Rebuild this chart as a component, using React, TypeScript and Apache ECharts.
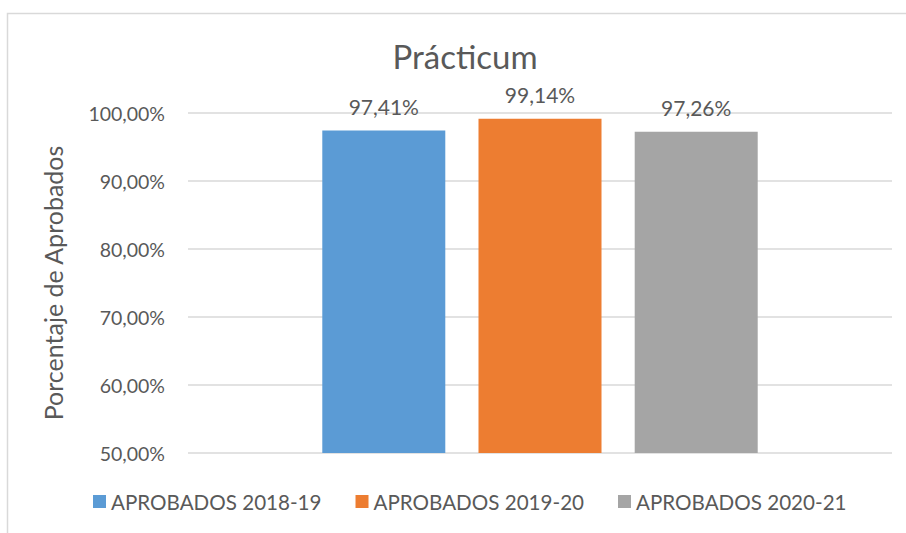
import React, { useEffect, useRef } from "react";
import * as echarts from "echarts";

const categories = ["Prácticum"];
const seriesNames = ["APROBADOS 2018-19", "APROBADOS 2019-20", "APROBADOS 2020-21"];
const seriesValues = [97.41, 99.14, 97.26];
const seriesColors = ["#5b9bd5", "#ed7d31", "#a5a5a5"];
const yTicks = [50, 60, 70, 80, 90, 100];

const FONT = "Lato, sans-serif";
const TXT = "#595959";

function fmt(v: number, d: number) {
  return v.toFixed(d).replace(".", ",") + "%";
}

export default function App() {
  const ref = useRef<HTMLDivElement>(null);
  useEffect(() => {
    const chart = echarts.init(ref.current!, null, { renderer: "svg" });
    chart.setOption({
      animation: false,
      backgroundColor: "#ffffff",
      textStyle: { fontFamily: FONT },
      title: {
        text: "Prácticum",
        left: 460,
        top: 34,
        textAlign: "center",
        textStyle: { fontFamily: FONT, fontSize: 33, fontWeight: "normal", color: TXT },
      },
      graphic: [
        {
          type: "rect",
          shape: { x: 7.5, y: 13.5, width: 1000, height: 600 },
          style: { fill: "none", stroke: "#d9d9d9", lineWidth: 1.5 },
          silent: true,
        },
      ],
      legend: {
        bottom: 16,
        left: 88,
        itemWidth: 13,
        itemHeight: 13,
        itemGap: 34,
        icon: "rect",
        textStyle: { fontFamily: FONT, fontSize: 20.6, color: TXT },
        data: seriesNames,
      },
      grid: { left: 188, right: 14, top: 113, bottom: 80, containLabel: false },
      xAxis: {
        type: "category",
        data: categories,
        axisLine: { show: false },
        axisTick: { show: false },
        axisLabel: { show: false },
      },
      yAxis: {
        type: "value",
        min: yTicks[0],
        max: yTicks[yTicks.length - 1],
        interval: 10,
        name: "Porcentaje de Aprobados",
        nameLocation: "middle",
        nameGap: 123,
        nameTextStyle: { fontFamily: FONT, fontSize: 25, color: TXT },
        axisLine: { show: false },
        axisTick: { show: false },
        axisLabel: {
          fontFamily: FONT,
          fontSize: 19.5,
          color: TXT,
          margin: 23,
          formatter: (v: number) => fmt(v, 2),
        },
        splitLine: { lineStyle: { color: "#d9d9d9", width: 1.5 } },
      },
      series: seriesNames.map((name, i) => ({
        name,
        type: "bar",
        data: [seriesValues[i]],
        barWidth: 123,
        barGap: "27%",
        itemStyle: { color: seriesColors[i] },
        label: {
          show: true,
          position: "top",
          distance: 14,
          fontFamily: FONT,
          fontSize: 21,
          color: TXT,
          formatter: (p: any) => fmt(p.value, 2),
        },
      })),
    });
    return () => chart.dispose();
  }, []);
  return (
    <div
      ref={ref}
      style={{ position: "fixed", left: 0, top: 0, width: 906, height: 533 }}
    />
  );
}
